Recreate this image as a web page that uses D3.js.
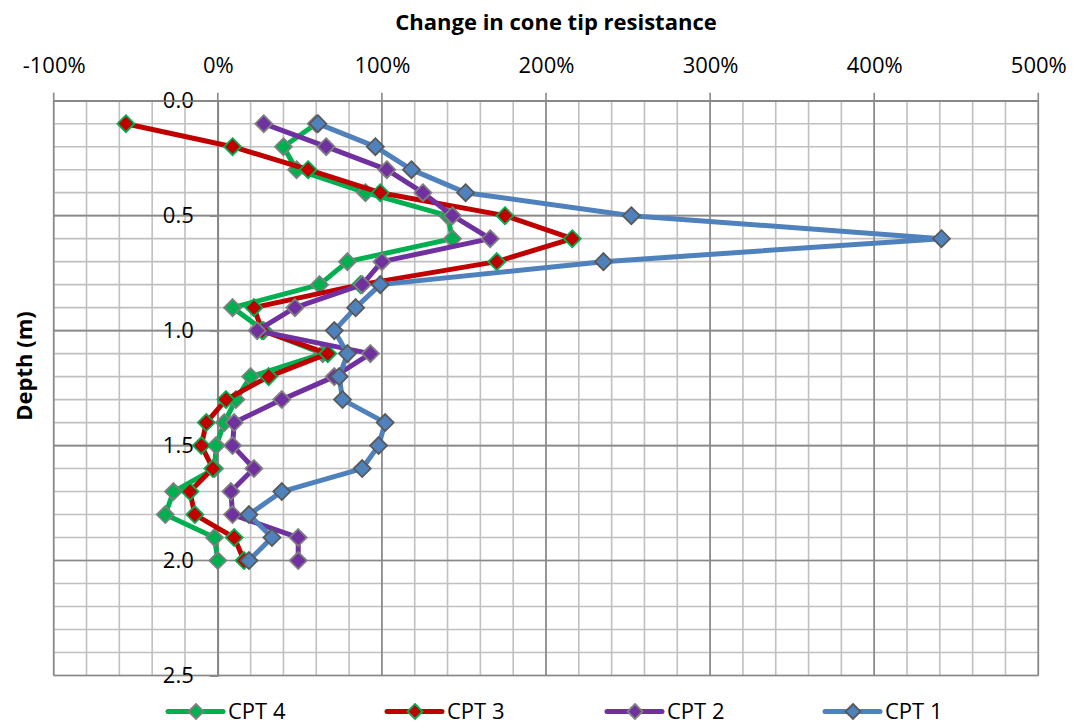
<!DOCTYPE html>
<html>
<head>
<meta charset="utf-8">
<script src="https://cdn.jsdelivr.net/npm/d3@7"></script>
<style>
  html, body { margin: 0; padding: 0; background: #ffffff; }
  svg { display: block; font-family: "Open Sans", sans-serif; }
</style>
</head>
<body>
<svg id="chart" width="1078" height="724"></svg>
<script>
// Depth of each reading (m)
const depths = [0.1, 0.2, 0.3, 0.4, 0.5, 0.6, 0.7, 0.8, 0.9, 1.0,
                1.1, 1.2, 1.3, 1.4, 1.5, 1.6, 1.7, 1.8, 1.9, 2.0];

// Change in cone tip resistance (%) for each test
const cpt4 = [60, 40, 48, 90, 140, 143, 79, 62, 9, 28, 64, 20, 11, 4, -1, -2, -27, -32, -2, 0];
const cpt3 = [-56, 9, 55, 99, 175, 216, 170, 87, 22, 27, 67, 31, 5, -7, -10, -3, -17, -14, 10, 16];
const cpt2 = [28, 66, 103, 125, 143, 166, 100, 88, 47, 24, 93, 71, 39, 10, 9, 22, 8, 9, 49, 49];
const cpt1 = [61, 96, 118, 151, 252, 441, 235, 99, 84, 71, 79, 74, 76, 102, 98, 88, 39, 19, 33, 19];

const seriesNames = ["CPT 4", "CPT 3", "CPT 2", "CPT 1"];

// Axis ticks
const xTicks = [-100, 0, 100, 200, 300, 400, 500];
const yTicks = [0, 0.5, 1.0, 1.5, 2.0, 2.5];

const series = [
  { name: seriesNames[0], values: cpt4, line: "#00B050", fill: "#00B050", stroke: "#7F7F7F" },
  { name: seriesNames[1], values: cpt3, line: "#C00000", fill: "#C00000", stroke: "#00B050" },
  { name: seriesNames[2], values: cpt2, line: "#7030A0", fill: "#7030A0", stroke: "#7F7F7F" },
  { name: seriesNames[3], values: cpt1, line: "#4F81BD", fill: "#4F81BD", stroke: "#595959" }
];

const svg = d3.select("#chart");
const plot = { left: 53.7, right: 1038.3, top: 100.7, bottom: 675.5 };

const x = d3.scaleLinear().domain([-100, 500]).range([plot.left, plot.right]);
const y = d3.scaleLinear().domain([0, 2.5]).range([plot.top, plot.bottom]);

const minorColor = "#C0C0C0";
const majorColor = "#888888";

// Minor grid
const g = svg.append("g");
g.selectAll("line.vminor")
  .data(d3.range(-100, 501, 20))
  .join("line")
  .attr("x1", d => x(d)).attr("x2", d => x(d))
  .attr("y1", plot.top).attr("y2", plot.bottom)
  .attr("stroke", minorColor).attr("stroke-width", 1.6);
g.selectAll("line.hminor")
  .data(d3.range(0, 26).map(i => i / 10))
  .join("line")
  .attr("x1", plot.left).attr("x2", plot.right)
  .attr("y1", d => y(d)).attr("y2", d => y(d))
  .attr("stroke", minorColor).attr("stroke-width", 1.6);

// Major grid
g.append("g").selectAll("line")
  .data(xTicks)
  .join("line")
  .attr("x1", d => x(d)).attr("x2", d => x(d))
  .attr("y1", plot.top - 8).attr("y2", plot.bottom)
  .attr("stroke", majorColor).attr("stroke-width", 1.6);
g.append("g").selectAll("line")
  .data(yTicks)
  .join("line")
  .attr("x1", plot.left).attr("x2", plot.right)
  .attr("y1", d => y(d)).attr("y2", d => y(d))
  .attr("stroke", majorColor).attr("stroke-width", 1.6);

// Y axis (crosses at 0%) with outward ticks
const yAxis = d3.axisLeft(y).tickValues(yTicks).tickSize(8).tickPadding(16)
  .tickFormat(d3.format(".1f"));
const yg = svg.append("g").attr("transform", `translate(${x(0)},0)`).call(yAxis);
yg.select(".domain").attr("stroke", majorColor).attr("stroke-width", 1.6);
yg.selectAll(".tick line").attr("stroke", majorColor).attr("stroke-width", 1.6);
yg.selectAll(".tick text")
  .attr("font-family", "Open Sans, sans-serif")
  .attr("font-size", 22).attr("fill", "#000");

// X axis labels along the top
const xAxis = d3.axisTop(x).tickValues(xTicks).tickSize(0).tickPadding(0)
  .tickFormat(d => d + "%");
const xg = svg.append("g").attr("transform", `translate(0,${plot.top})`).call(xAxis);
xg.select(".domain").attr("stroke", majorColor).attr("stroke-width", 1.6);
xg.selectAll(".tick text")
  .attr("font-family", "Open Sans, sans-serif")
  .attr("font-size", 22).attr("fill", "#000")
  .attr("dy", null)
  .attr("y", 73 - plot.top);

// Series: line then diamond markers
const diamond = r => `M0,${-r}L${r},0L0,${r}L${-r},0Z`;
series.forEach(s => {
  const pts = s.values.map((v, i) => [v, depths[i]]);
  svg.append("path")
    .datum(pts)
    .attr("fill", "none")
    .attr("stroke", s.line)
    .attr("stroke-width", 5)
    .attr("stroke-linejoin", "round")
    .attr("d", d3.line().x(d => x(d[0])).y(d => y(d[1])));
  svg.append("g").selectAll("path")
    .data(pts)
    .join("path")
    .attr("transform", d => `translate(${x(d[0])},${y(d[1])})`)
    .attr("d", diamond(8.5))
    .attr("fill", s.fill)
    .attr("stroke", s.stroke)
    .attr("stroke-width", 1.8);
});

// Titles
svg.append("text")
  .attr("x", 556).attr("y", 30)
  .attr("text-anchor", "middle")
  .attr("font-size", 22).attr("font-weight", "bold")
  .text("Change in cone tip resistance");

svg.append("text")
  .attr("transform", "translate(32,366) rotate(-90)")
  .attr("text-anchor", "middle")
  .attr("font-size", 22).attr("font-weight", "bold")
  .text("Depth (m)");

// Legend
const legendX = [196, 415, 635, 853];
const legendY = 711.5;
const lg = svg.append("g");
series.forEach((s, i) => {
  const cx = legendX[i];
  lg.append("line")
    .attr("x1", cx - 28).attr("x2", cx + 27)
    .attr("y1", legendY).attr("y2", legendY)
    .attr("stroke", s.line).attr("stroke-width", 5)
    .attr("stroke-linecap", "round");
  lg.append("path")
    .attr("transform", `translate(${cx},${legendY})`)
    .attr("d", diamond(7.5))
    .attr("fill", s.fill).attr("stroke", s.stroke).attr("stroke-width", 1.8);
  lg.append("text")
    .attr("x", cx + 32).attr("y", legendY)
    .attr("dy", "0.35em")
    .attr("font-size", 22)
    .text(s.name);
});
</script>
</body>
</html>
